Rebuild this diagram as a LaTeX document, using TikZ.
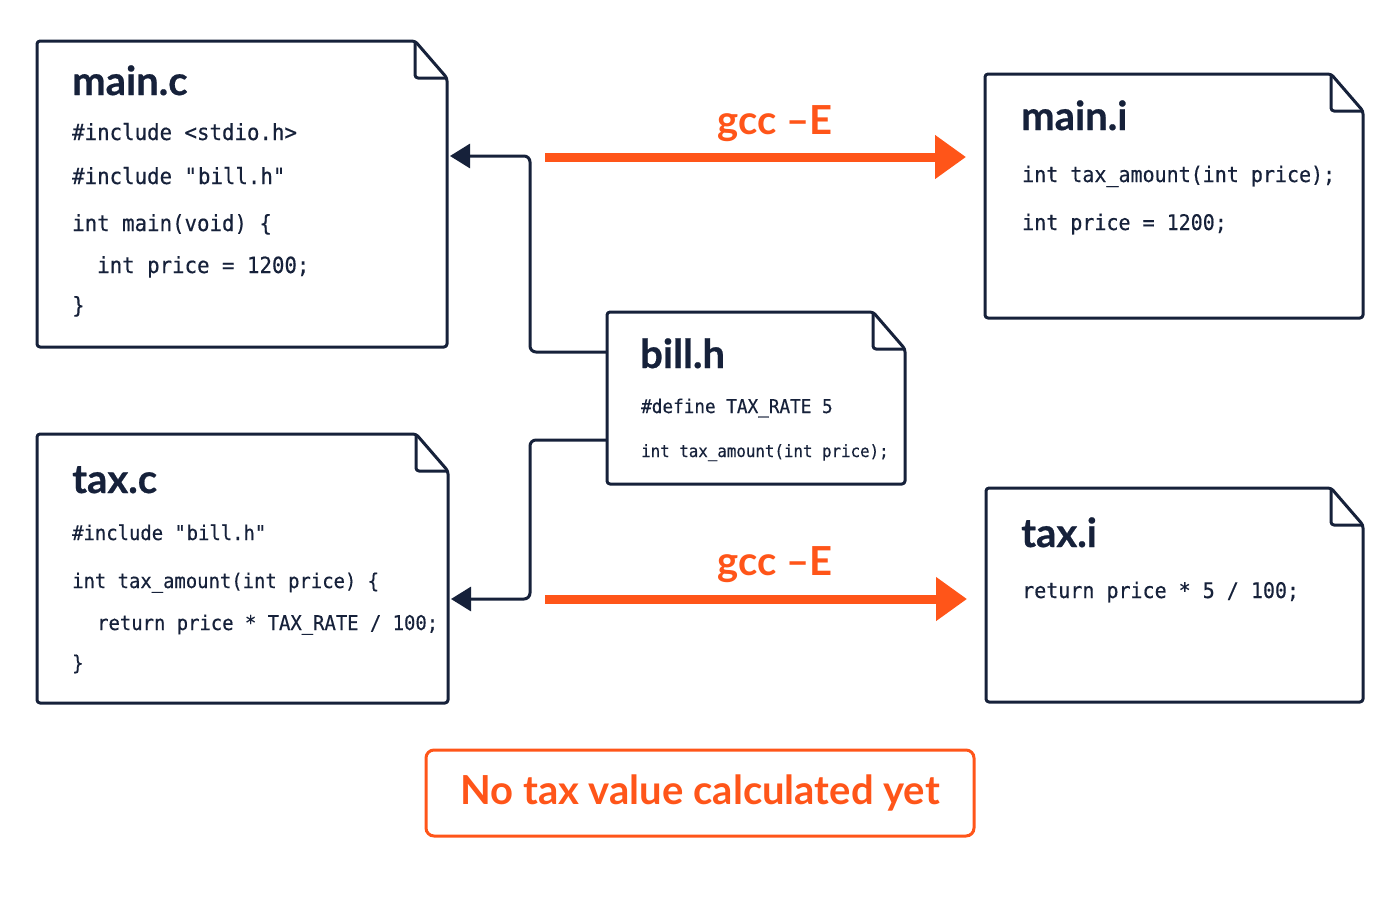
\documentclass[tikz,border=0pt]{standalone}
\usepackage{fontspec}
\setmainfont{Lato}
\newfontfamily\titlefont[FakeBold=0.6]{Lato}
\newfontfamily\codefont[FakeStretch=0.93,FakeBold=0.4]{DejaVu Sans Mono}
\usetikzlibrary{arrows.meta}
\definecolor{ink}{HTML}{16213A}
\definecolor{gccorange}{HTML}{FF5519}

\begin{document}
\begin{tikzpicture}[x=1pt,y=-1pt,
  doc/.style={inner sep=0pt, outer sep=0pt},
  docline/.style={ink, line width=3pt, rounded corners=3pt, line join=round},
  title/.style={anchor=base west, inner sep=0pt, text=ink, font=\titlefont\fontsize{40}{48}\selectfont\bfseries},
  code/.style={anchor=base west, inner sep=0pt, text=ink, font=\codefont\fontsize{21.5}{26}\selectfont},
  link/.style={ink, line width=3pt, rounded corners=6pt, -{Triangle[length=20pt,width=24pt]}},
  gcc/.style={gccorange, line width=9pt, -{Triangle[length=31pt,width=42pt]}},
  gcclabel/.style={anchor=base, inner sep=0pt, text=gccorange, font=\fontsize{40}{48}\selectfont\bfseries}]

  \fill[white] (0,0) rectangle (1400,900);
  \useasboundingbox (0,0) rectangle (1400,900);

  % source and output files
  \node[doc, minimum width=410pt, minimum height=306pt] (mainc) at (242,194) {};
  \node[doc, minimum width=378pt, minimum height=244pt] (maini) at (1174,196) {};
  \node[doc, minimum width=298pt, minimum height=172pt] (billh) at (756,398) {};
  \node[doc, minimum width=411pt, minimum height=269pt] (taxc) at (242.5,568.5) {};
  \node[doc, minimum width=377pt, minimum height=214pt] (taxi) at (1174.5,595) {};

  \foreach \n in {mainc,maini,billh,taxc,taxi} {
    \draw[docline, fill=white] (\n.north west) -- ([xshift=-32pt]\n.north east)
      -- ([yshift=-37pt]\n.north east) -- (\n.south east) -- (\n.south west) -- cycle;
    \draw[docline] ([xshift=-32pt]\n.north east) |- ([yshift=-37pt]\n.north east);
  }

  \node[title] (mainc title) at (72,95) {main.c};
  \node[title] (maini title) at (1021,130) {main.i};
  \node[title] (billh title) at (640,368) {bill.h};
  \node[title] (taxc title) at (72,493) {tax.c};
  \node[title] (taxi title) at (1021,547) {tax.i};

  \foreach \x/\y/\txt [count=\i] in {72/140/{\#include <stdio.h>},
      72/184/{\#include \textquotedbl bill.h\textquotedbl},
      72/231/{int main(void) \{}, 97/273/{int price = 1200;}, 72/313/{\}}} {
    \node[code, font=\codefont\fontsize{22.3}{26}\selectfont] (mainc line \i) at (\x,\y) {\txt};
  }
  \foreach \y/\txt [count=\i] in {182/{int tax\_amount(int price);}, 230/{int price = 1200;}} {
    \node[code] (maini line \i) at (1022,\y) {\txt};
  }
  \foreach \y/\s/\txt [count=\i] in {413/19/{\#define TAX\_RATE 5}, 457/17/{int tax\_amount(int price);}} {
    \node[code, font=\codefont\fontsize{\s}{20}\selectfont] (billh line \i) at (641,\y) {\txt};
  }
  \foreach \x/\y/\txt [count=\i] in {72/540/{\#include \textquotedbl bill.h\textquotedbl},
      72/588/{int tax\_amount(int price) \{}, 97/630/{return price * TAX\_RATE / 100;}, 72/670/{\}}} {
    \node[code, font=\codefont\fontsize{20.3}{24}\selectfont] (taxc line \i) at (\x,\y) {\txt};
  }
  \node[code] (taxi line 1) at (1022,598) {return price * 5 / 100;};

  % includes
  \coordinate (spineup) at (530,156);
  \coordinate (spinedown) at (530,599);
  \draw[link] ([yshift=-40pt]billh.north west) -| (spineup) -- ([xshift=3pt]mainc.east |- spineup);
  \draw[link] ([yshift=44pt]billh.south west) -| (spinedown) -- ([xshift=3pt]taxc.east |- spinedown);

  % preprocessing
  \coordinate (mainc out) at (545,157);
  \coordinate (taxc out) at (545,599);
  \draw[gcc] (mainc out) -- ([xshift=-19pt]maini.west |- mainc out);
  \draw[gcc] (taxc out) -- ([xshift=-19pt]taxi.west |- taxc out);
  \node[gcclabel] (gcc up) at (775,134) {gcc –E};
  \node[gcclabel] (gcc down) at (775,575) {gcc –E};

  \node[draw=gccorange, line width=3pt, rounded corners=8pt, minimum width=548pt, minimum height=86pt,
    text=gccorange, font=\fontsize{40}{48}\selectfont\bfseries] (note) at (700,793) {No tax value calculated yet};
\end{tikzpicture}
\end{document}
